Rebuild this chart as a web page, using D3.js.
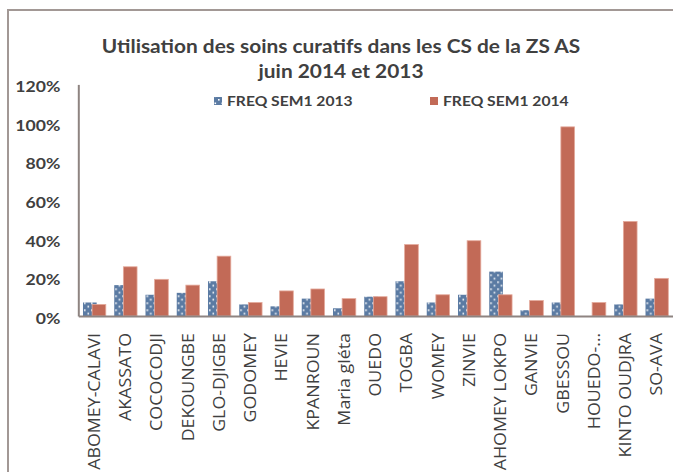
<!DOCTYPE html>
<html>
<head>
<meta charset="utf-8">
<script src="https://cdn.jsdelivr.net/npm/d3@7"></script>
<style>
  body { margin: 0; background: #fff; }
  svg { display: block; }
  .axis path { stroke: #8e8481; stroke-width: 2; }
  .axis line { display: none; }
</style>
</head>
<body>
<div id="chart"></div>
<script>
// data
var centres = ["ABOMEY-CALAVI", "AKASSATO", "COCOCODJI", "DEKOUNGBE", "GLO-DJIGBE", "GODOMEY", "HEVIE",
  "KPANROUN", "Maria gléta", "OUEDO", "TOGBA", "WOMEY", "ZINVIE", "AHOMEY LOKPO", "GANVIE", "GBESSOU",
  "HOUEDO-…", "KINTO OUDJRA", "SO-AVA"];
var freq2013 = [0.07, 0.16, 0.11, 0.12, 0.18, 0.06, 0.05, 0.09, 0.04, 0.10, 0.18, 0.07, 0.11, 0.23, 0.03, 0.07, 0, 0.06, 0.09];
var freq2014 = [0.06, 0.255, 0.19, 0.16, 0.31, 0.07, 0.13, 0.14, 0.09, 0.10, 0.37, 0.11, 0.39, 0.11, 0.08, 0.98, 0.07, 0.49, 0.195];
var yTicks = [0, 0.2, 0.4, 0.6, 0.8, 1.0, 1.2];
var seriesNames = ["FREQ SEM1 2013", "FREQ SEM1 2014"];

var W = 673, H = 472;
var margin = {top: 84.4, right: 0, bottom: 156, left: 78.3};
var width = W - margin.left - margin.right,
  height = H - margin.top - margin.bottom;

var blue = "#5b7ba3", red = "#c26a57", textCol = "#404040";

var data = centres.map(function(c, i) { return {name: c, a: freq2013[i], b: freq2014[i]}; });

var x = d3.scaleBand()
  .domain(centres)
  .range([0, width])
  .paddingInner(0.27)
  .paddingOuter(0.15);

var y = d3.scaleLinear()
  .domain([0, 1.2])
  .range([height, 0]);

var svg = d3.select("#chart").append("svg")
  .attr("width", W)
  .attr("height", H);

// dotted fill for 2013
var pat = svg.append("defs").append("pattern")
  .attr("id", "dots")
  .attr("patternUnits", "userSpaceOnUse")
  .attr("width", 7).attr("height", 7);
pat.append("rect").attr("width", 7).attr("height", 7).attr("fill", blue);
pat.append("rect").attr("x", 1).attr("y", 1).attr("width", 1.6).attr("height", 1.6).attr("fill", "#fff");
pat.append("rect").attr("x", 4.5).attr("y", 4.5).attr("width", 1.6).attr("height", 1.6).attr("fill", "#fff");

// outer frame (cropped at right and bottom)
svg.append("path")
  .attr("d", "M8," + H + "V10H" + W)
  .attr("fill", "none")
  .attr("stroke", "#a29895")
  .attr("stroke-width", 2);

//title (text in the source is stretched sideways)
var title = svg.append("g")
  .attr("transform", "translate(341,0) scale(1.16,1)")
  .append("text")
  .attr("fill", textCol)
  .attr("font-family", "Lato, sans-serif")
  .attr("font-weight", "bold")
  .attr("font-size", 18)
  .attr("text-anchor", "middle");
title.append("tspan").attr("x", 0).attr("y", 53).text("Utilisation des soins curatifs  dans les CS de la ZS AS");
title.append("tspan").attr("x", 0).attr("y", 78).text("juin 2014 et 2013");

var g = svg.append("g")
  .attr("transform", "translate(" + margin.left + "," + margin.top + ")");

//y axis
g.append("g")
  .attr("class", "axis")
  .call(d3.axisLeft(y).tickValues(yTicks).tickFormat(d3.format(".0%")).tickSize(0).tickPadding(18))
  .selectAll("text")
    .attr("fill", textCol)
    .attr("font-family", "Lato, sans-serif")
    .attr("font-weight", "bold")
    .attr("font-size", 16)
    .attr("dy", "0.45em")
    .attr("transform", "translate(-18,0) scale(1.1,1) translate(18,0)");

//bars
var bw = x.bandwidth() * 0.6;
var grp = g.selectAll(".centre")
  .data(data)
  .enter().append("g")
    .attr("class", "centre")
    .attr("transform", function(d) { return "translate(" + x(d.name) + ",0)"; });

grp.append("rect")
  .attr("x", 0)
  .attr("width", bw)
  .attr("y", function(d) { return y(d.a); })
  .attr("height", function(d) { return height - y(d.a); })
  .attr("fill", "url(#dots)");

grp.append("rect")
  .attr("x", x.bandwidth() - bw)
  .attr("width", bw)
  .attr("y", function(d) { return y(d.b); })
  .attr("height", function(d) { return height - y(d.b); })
  .attr("fill", red)
  .attr("stroke", "#e4aa9c")
  .attr("stroke-width", 0.8);

//x axis
g.append("g")
  .attr("class", "axis")
  .attr("transform", "translate(0," + height + ")")
  .call(d3.axisBottom(x).tickSize(0).tickPadding(0))
  .selectAll("text")
    .attr("fill", textCol)
    .attr("font-family", "'Open Sans', sans-serif")
    .attr("font-size", 15.5)
    .attr("transform", "rotate(-90) translate(-17,0) scale(1.15,1)")
    .attr("x", 0)
    .attr("y", 0)
    .attr("dy", "0.36em")
    .style("text-anchor", "end");

//legend
var legend = svg.append("g")
  .attr("font-family", "Lato, sans-serif")
  .attr("font-weight", "bold")
  .attr("font-size", 13.5)
  .attr("fill", textCol);
var legX = [214, 430];
seriesNames.forEach(function(s, i) {
  legend.append("rect")
    .attr("x", legX[i]).attr("y", 97)
    .attr("width", 8).attr("height", 8)
    .attr("fill", i == 0 ? "url(#dots)" : red);
  legend.append("text")
    .attr("transform", "translate(" + (legX[i] + 13) + ",106) scale(1.16,1)")
    .text(s);
});
</script>
</body>
</html>
